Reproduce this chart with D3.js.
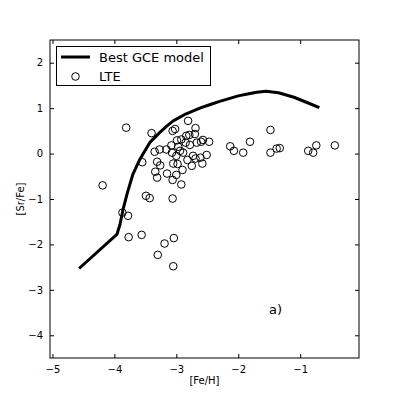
<!DOCTYPE html>
<html>
<head>
<meta charset="utf-8">
<script src="https://cdn.jsdelivr.net/npm/d3@7"></script>
<style>
  body { margin: 0; background: #fff; }
  text { font-family: "DejaVu Sans", sans-serif; fill: #000; }
  .tick-label { font-size: 10px; }
</style>
</head>
<body>
<script>
// GCE model curve: [Fe/H], [Sr/Fe]
var modelFeH = [-4.57, -3.96, -3.91, -3.86, -3.79, -3.70, -3.59, -3.43, -3.27, -3.15, -3.05, -2.85, -2.60, -2.45, -2.30, -2.00, -1.85, -1.70, -1.55, -1.35, -1.10, -0.90, -0.69];
var modelSrFe = [-2.53, -1.78, -1.56, -1.23, -0.86, -0.45, -0.13, 0.24, 0.46, 0.61, 0.72, 0.87, 1.01, 1.08, 1.15, 1.27, 1.31, 1.35, 1.37, 1.34, 1.24, 1.13, 1.01];

// LTE stars
var starFeH = [-4.19, -3.81, -3.87, -3.78, -3.77, -3.56, -3.55, -3.49, -3.43, -3.40,
  -3.35, -3.27, -3.16, -3.31, -3.26, -3.34, -3.31, -3.15, -3.19, -3.30,
  -3.04, -3.05, -3.06, -3.06, -3.00, -2.92, -2.90, -3.05, -2.98, -3.00,
  -3.07, -2.89, -2.82, -2.75, -2.69, -2.61, -2.58, -2.51, -3.08, -2.97,
  -2.99, -2.85, -2.78, -2.79, -2.84, -3.02, -3.06, -2.81, -2.69, -2.70,
  -2.67, -2.57, -2.60, -2.47, -2.92, -2.94, -2.73,
  -2.13, -2.07, -1.92, -1.81, -1.48, -1.48, -1.38, -1.33, -0.87, -0.79, -0.74, -0.44];
var starSrFe = [-0.70, 0.57, -1.30, -1.37, -1.84, -1.79, -0.19, -0.93, -0.98, 0.45,
  0.04, 0.09, 0.09, -0.18, -0.26, -0.40, -0.53, -0.44, -1.98, -2.23,
  -1.86, -2.48, -0.99, -0.58, -0.47, -0.68, -0.36, -0.22, -0.23, -0.05,
  0.02, 0.02, -0.14, -0.27, -0.11, -0.09, -0.22, -0.03, 0.18, 0.15,
  0.29, 0.24, 0.19, 0.41, 0.39, 0.54, 0.50, 0.72, 0.56, 0.43,
  0.24, 0.30, 0.26, 0.26, 0.31, 0.06, -0.05,
  0.16, 0.06, 0.02, 0.26, 0.52, 0.02, 0.11, 0.12, 0.06, 0.02, 0.18, 0.18];

var xTicks = [-5, -4, -3, -2, -1];
var yTicks = [-4, -3, -2, -1, 0, 1, 2];

var W = 399, H = 399;
var pLeft = 50, pRight = 359, pTop = 40, pBottom = 358;

var svg = d3.select("body").append("svg")
  .attr("width", W).attr("height", H);

var x = d3.scaleLinear().domain([-5.04, -0.05]).range([pLeft, pRight]);
var y = d3.scaleLinear().domain([-4.5, 2.5]).range([pBottom, pTop]);

function fmt(d) { return String(d).replace("-", "\u2212"); }

// clip for plot area
svg.append("clipPath").attr("id", "clip")
  .append("rect").attr("x", pLeft).attr("y", pTop)
  .attr("width", pRight - pLeft).attr("height", pBottom - pTop);

var plot = svg.append("g").attr("clip-path", "url(#clip)");

// model line
var model = modelFeH.map(function(d, i) { return [d, modelSrFe[i]]; });
plot.append("path")
  .datum(model)
  .attr("fill", "none")
  .attr("stroke", "#000")
  .attr("stroke-width", 3)
  .attr("stroke-linejoin", "round")
  .attr("d", d3.line()
    .x(function(d) { return x(d[0]); })
    .y(function(d) { return y(d[1]); }));

// stars
var stars = starFeH.map(function(d, i) { return [d, starSrFe[i]]; });
plot.selectAll("circle.star")
  .data(stars).enter().append("circle")
  .attr("class", "star")
  .attr("cx", function(d) { return x(d[0]); })
  .attr("cy", function(d) { return y(d[1]); })
  .attr("r", 3.8)
  .attr("fill", "none")
  .attr("stroke", "#000")
  .attr("stroke-width", 1);

// frame
svg.append("rect")
  .attr("x", pLeft).attr("y", pTop)
  .attr("width", pRight - pLeft).attr("height", pBottom - pTop)
  .attr("fill", "none").attr("stroke", "#000").attr("stroke-width", 1);

// axes, ticks inward on all four sides
var tk = 4;
var xAxB = d3.axisBottom(x).tickValues(xTicks).tickSize(-tk).tickPadding(8).tickFormat(fmt);
var xAxT = d3.axisTop(x).tickValues(xTicks).tickSize(-tk).tickFormat("");
var yAxL = d3.axisLeft(y).tickValues(yTicks).tickSize(-tk).tickPadding(7).tickFormat(fmt);
var yAxR = d3.axisRight(y).tickValues(yTicks).tickSize(-tk).tickFormat("");

function style(g) {
  g.select(".domain").remove();
  g.selectAll("line").attr("stroke", "#000");
  g.selectAll("text").attr("class", "tick-label").style("font-size", "10px")
    .style("font-family", "DejaVu Sans, sans-serif").attr("fill", "#000");
}
svg.append("g").attr("transform", "translate(0," + pBottom + ")").call(xAxB).call(style);
svg.append("g").attr("transform", "translate(0," + pTop + ")").call(xAxT).call(style);
svg.append("g").attr("transform", "translate(" + pLeft + ",0)").call(yAxL).call(style);
svg.append("g").attr("transform", "translate(" + pRight + ",0)").call(yAxR).call(style);

// axis titles
svg.append("text")
  .attr("x", (pLeft + pRight) / 2).attr("y", 384)
  .attr("text-anchor", "middle").style("font-size", "10px")
  .text("[Fe/H]");
svg.append("text")
  .attr("transform", "translate(24," + ((pTop + pBottom) / 2) + ")rotate(-90)")
  .attr("text-anchor", "middle").style("font-size", "10px")
  .text("[Sr/Fe]");

// panel label
svg.append("text")
  .attr("x", 269).attr("y", 314)
  .style("font-size", "13px")
  .text("a)");

// legend
var lg = svg.append("g");
lg.append("rect")
  .attr("x", 56.5).attr("y", 46.5).attr("width", 154).attr("height", 39)
  .attr("fill", "#fff").attr("stroke", "#000").attr("stroke-width", 1);
lg.append("line")
  .attr("x1", 61).attr("x2", 90).attr("y1", 57).attr("y2", 57)
  .attr("stroke", "#000").attr("stroke-width", 3);
lg.append("text").attr("x", 99).attr("y", 61.5).style("font-size", "13px").text("Best GCE model");
lg.append("circle").attr("cx", 75.5).attr("cy", 76.5).attr("r", 3.8)
  .attr("fill", "none").attr("stroke", "#000").attr("stroke-width", 1);
lg.append("text").attr("x", 99).attr("y", 81).style("font-size", "13px").text("LTE");
</script>
</body>
</html>
